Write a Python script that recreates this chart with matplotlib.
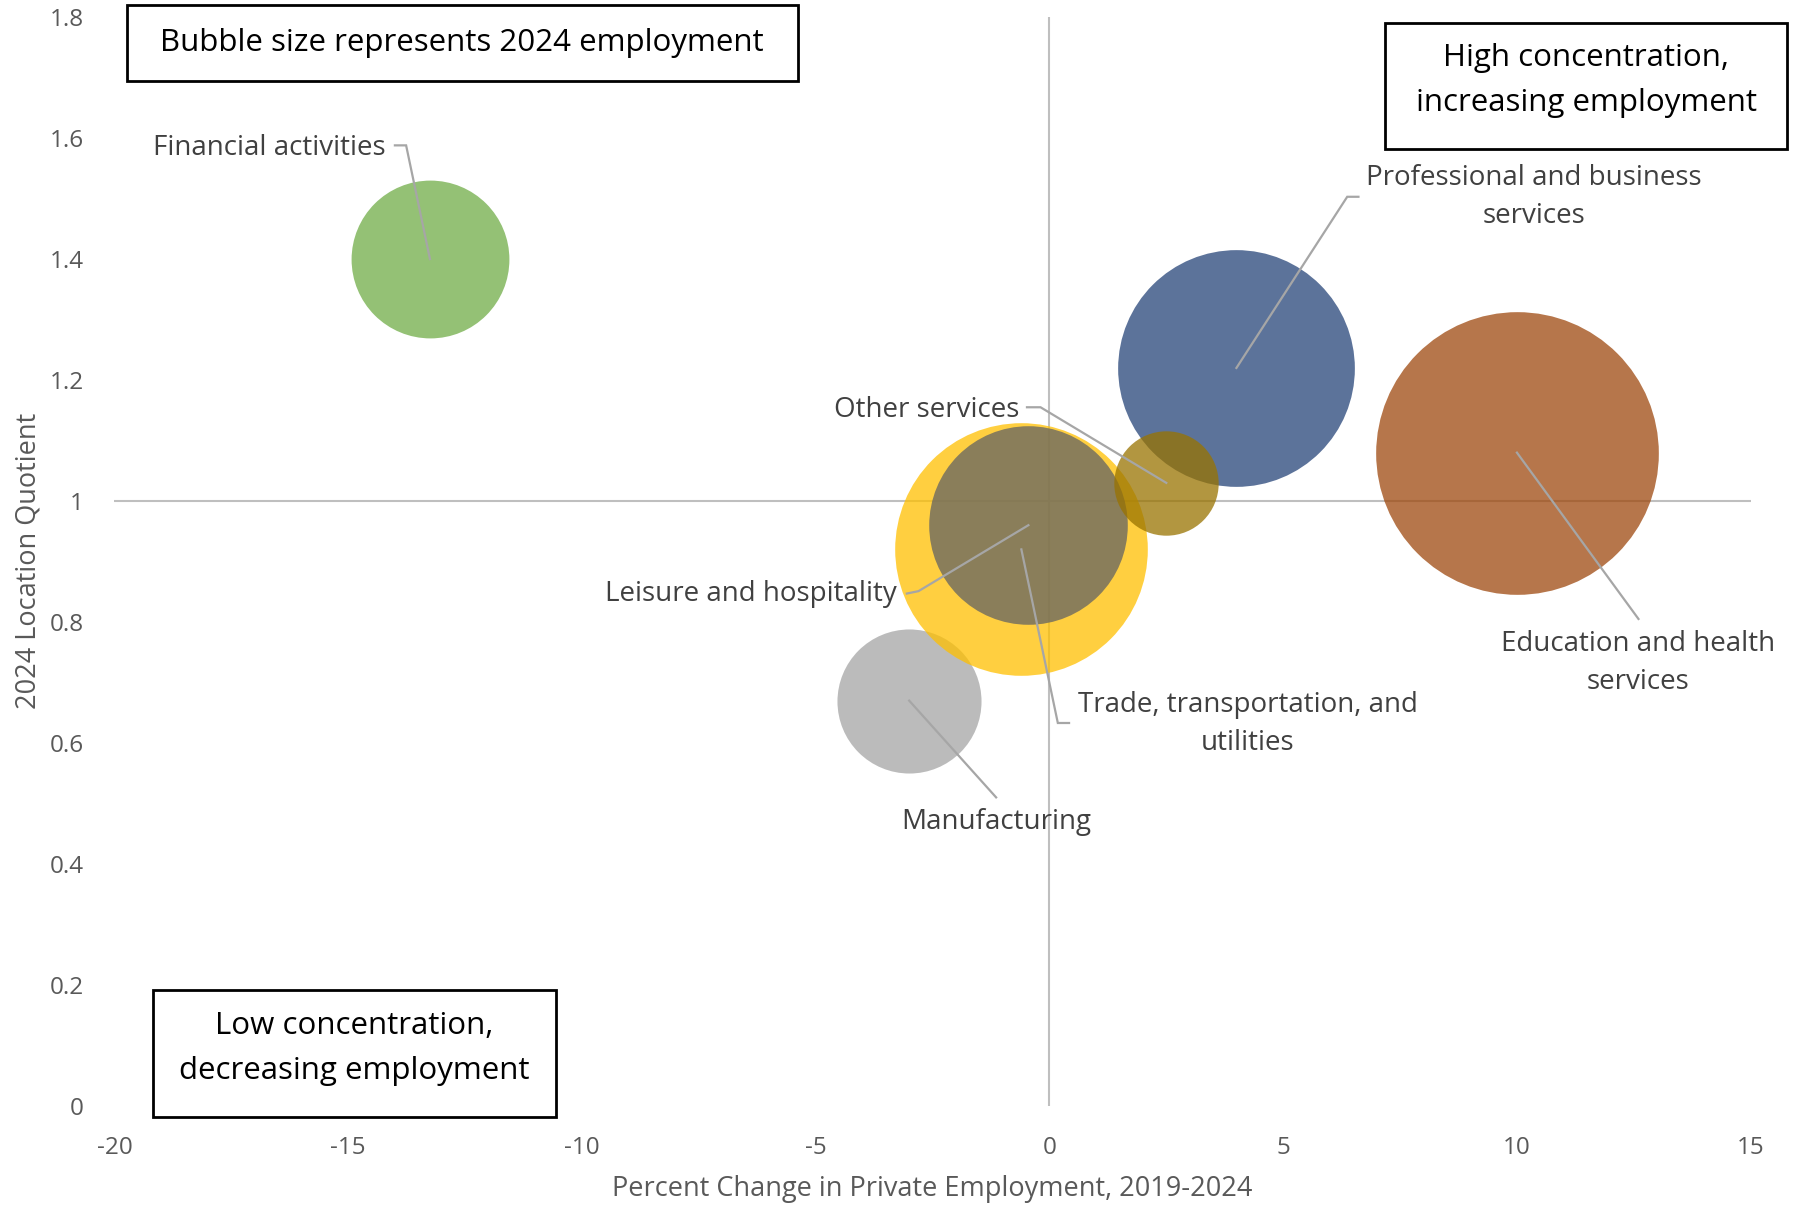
import matplotlib
matplotlib.use('Agg')
import matplotlib.pyplot as plt
from matplotlib.patches import Rectangle

plt.rcParams['font.family'] = ['Open Sans', 'DejaVu Sans']
plt.rcParams['axes.unicode_minus'] = False

# data
sectors = ['Financial activities', 'Professional and business\nservices',
           'Education and health\nservices', 'Manufacturing',
           'Trade, transportation, and\nutilities', 'Leisure and hospitality',
           'Other services']
pct_change = [-13.25, 4.0, 10.0, -3.0, -0.6, -0.45, 2.5]
location_q = [1.40, 1.22, 1.08, 0.67, 0.92, 0.96, 1.03]
employment = [48, 108, 154, 40, 123, 76, 21]   # relative, sets bubble area
colors = ['#70AD47', '#264478', '#9E480E', '#A5A5A5', '#FFC000', '#636363', '#997300']

# label position (text anchor) and leader elbow for each sector
label_xy = [(-14.2, 1.584), (10.36, 1.503), (12.6, 0.732), (-1.14, 0.469),
            (4.24, 0.631), (-3.27, 0.847), (-0.65, 1.151)]
label_ha = ['right', 'center', 'center', 'center', 'center', 'right', 'right']
leader = [[(-14.0, 1.588), (-13.76, 1.588)],
          [(6.61, 1.503), (6.37, 1.503)],
          [(12.6, 0.805)],
          [(-1.14, 0.51)],
          [(0.42, 0.633), (0.18, 0.633)],
          [(-3.05, 0.847), (-2.8, 0.851)],
          [(-0.48, 1.155), (-0.19, 1.155)]]

xticks = [-20, -15, -10, -5, 0, 5, 10, 15]
yticks = [0, 0.2, 0.4, 0.6, 0.8, 1.0, 1.2, 1.4, 1.6, 1.8]
ytick_labels = ['0', '0.2', '0.4', '0.6', '0.8', '1', '1.2', '1.4', '1.6', '1.8']

fig = plt.figure(figsize=(17.93, 12.07), dpi=100)
ax = fig.add_axes([0.0638, 0.0838, 0.9126, 0.902])
ax.set_xlim(-20, 15)
ax.set_ylim(0, 1.8)

# quadrant lines
ax.axvline(0, color='#BFBFBF', lw=1.5, zorder=1)
ax.axhline(1, color='#BFBFBF', lw=1.5, zorder=1)

size_scale = 269
for i in range(len(sectors)):
    ax.scatter(pct_change[i], location_q[i], s=employment[i] * size_scale,
               color=colors[i], alpha=0.75, linewidths=0, zorder=2 + i)

for i in range(len(sectors)):
    pts = leader[i] + [(pct_change[i], location_q[i])]
    ax.plot([p[0] for p in pts], [p[1] for p in pts], color='#A6A6A6',
            lw=1.6, zorder=20, solid_joinstyle='miter')
    ax.text(label_xy[i][0], label_xy[i][1], sectors[i], ha=label_ha[i], va='center',
            multialignment='center', fontsize=20, color='#404040', zorder=21,
            linespacing=1.45)

for sp in ax.spines.values():
    sp.set_visible(False)
ax.set_xticks(xticks)
ax.set_yticks(yticks)
ax.set_yticklabels(ytick_labels)
ax.tick_params(length=0, labelsize=17.5, labelcolor='#595959')
ax.tick_params(axis='y', pad=22)
ax.tick_params(axis='x', pad=22)

ax.set_xlabel('Percent Change in Private Employment, 2019-2024', fontsize=19.5, color='#595959')
ax.set_ylabel('2024 Location Quotient', fontsize=19.5, color='#595959')
ax.xaxis.label.set_va('center')
ax.yaxis.label.set_va('center')
ax.xaxis.set_label_coords(0.5, -0.0767)
ax.yaxis.set_label_coords(-0.0524, 0.501)

# boxed notes
boxes = [((0.0708, 0.9327, 0.3744, 0.0635), 'Bubble size represents 2024 employment', (0.2577, 0.9640)),
         ((0.7723, 0.8768, 0.2245, 0.1043), 'High concentration,\nincreasing employment', (0.8846, 0.9330)),
         ((0.0855, 0.0744, 0.2245, 0.1052), 'Low concentration,\ndecreasing employment', (0.1977, 0.1315))]
for rect, txt, pos in boxes:
    fig.patches.append(Rectangle(rect[:2], rect[2], rect[3], transform=fig.transFigure,
                                 facecolor='white', edgecolor='black', lw=2, zorder=30))
    fig.text(pos[0], pos[1], txt, ha='center', va='center', fontsize=22.5,
             color='black', linespacing=1.65, zorder=31)

fig.savefig('out.png', dpi=100)
